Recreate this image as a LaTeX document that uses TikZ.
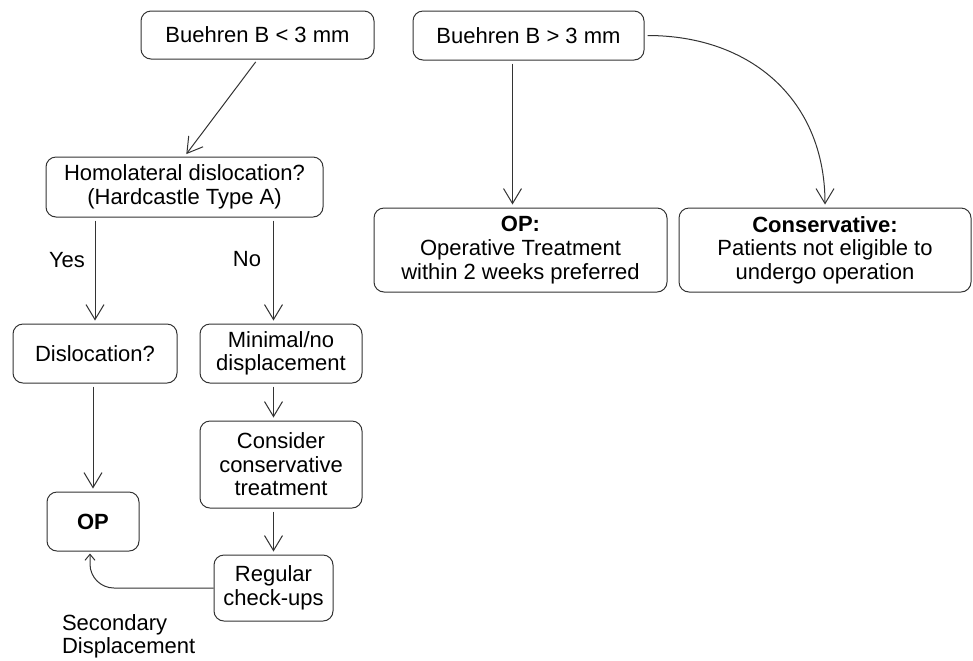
\documentclass[tikz,border=0pt]{standalone}
\usepackage{fontspec}
\setmainfont{Liberation Sans}
\usetikzlibrary{arrows.meta}

\begin{document}
\begin{tikzpicture}[x=0.5pt, y=-0.5pt,
	box/.style={draw=black!80, line width=0.5pt, rounded corners=5pt, align=center, inner sep=0pt, font=\fontsize{11}{11.8}\selectfont},
	arr/.style={draw=black!80, line width=0.5pt, -{Straight Barb[length=7.5pt,width=9pt]}, shorten <=1.5pt, shorten >=1.5pt},
	lbl/.style={font=\fontsize{11}{11.8}\selectfont, align=left}]
	\useasboundingbox (0,0) rectangle (973,660);
	% top row
	\node[box, minimum width=116.5pt, minimum height=24pt] (lt) at (257.5,35) {Buehren B < 3 mm};
	\node[box, minimum width=115.5pt, minimum height=24.5pt] (gt) at (528.5,35.5) {Buehren B > 3 mm};
	% right branch
	\node[box, minimum width=146.5pt, minimum height=42pt] (rop) at (520.5,250) {\textbf{OP:}\\Operative Treatment\\within 2 weeks preferred};
	\node[box, minimum width=146pt, minimum height=42pt] (cons) at (825,250) {\textbf{Conservative:}\\Patients not eligible to\\undergo operation};
	% left branch
	\node[box, minimum width=138.5pt, minimum height=30pt] (hom) at (184.5,187) {Homolateral dislocation?\\(Hardcastle Type A)};
	\node[box, minimum width=82pt, minimum height=29.5pt] (dis) at (95,353.5) {Dislocation?};
	\node[box, minimum width=81pt, minimum height=29.5pt] (min) at (281,353.5) {Minimal/no\\displacement};
	\node[box, minimum width=46pt, minimum height=29.5pt] (op) at (93,521.5) {\textbf{OP}};
	\node[box, minimum width=81pt, minimum height=43.5pt] (cst) at (281,464.5) {Consider\\conservative\\treatment};
	\node[box, minimum width=59.5pt, minimum height=33pt] (reg) at (273.5,588) {Regular\\check-ups};
	% labels
	\node[lbl] (yes) at (67,260) {Yes};
	\node[lbl] (no) at (247,259) {No};
	\node[lbl, anchor=north west] (sec) at (55,607) {Secondary\\Displacement};
	% connectors
	\draw[arr] (lt.south) -- (hom.north);
	\draw[arr] ([xshift=-8pt]gt.south) -- ([xshift=-8pt]gt.south |- rop.north);
	\draw[arr] (gt.east) to[out=0, in=90, looseness=1.1] (cons.north);
	\draw[arr] (dis.north |- hom.south) -- (dis.north);
	\draw[arr] (hom.south -| reg.north) -- (min.north -| reg.north);
	\draw[arr] (op.north |- dis.south) -- (op.north);
	\draw[arr] (min.south -| reg.north) -- (cst.north -| reg.north);
	\draw[arr] (cst.south -| reg.north) -- (reg.north);
	\draw[draw=black!80, line width=0.5pt, -{Straight Barb[length=3pt,width=5pt]}, rounded corners=12pt, shorten >=1pt]
		(reg.west) -| ([xshift=-1.5pt]op.south);
\end{tikzpicture}
\end{document}
